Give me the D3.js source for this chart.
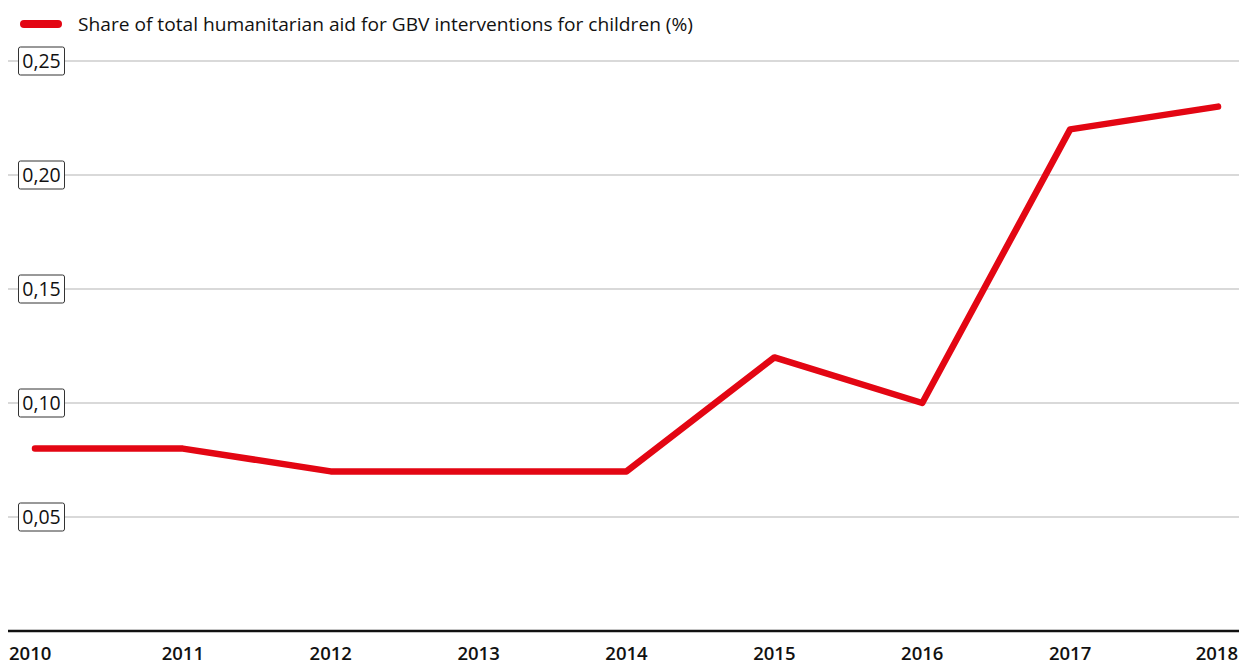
<!DOCTYPE html>
<html>
<head>
<meta charset="utf-8">
<script src="https://cdn.jsdelivr.net/npm/d3@7"></script>
<style>
  body { margin: 0; background: #fff; }
  svg { font-family: "Open Sans", "Lato", sans-serif; }
</style>
</head>
<body>
<div id="chart"></div>
<script>
// Chart data
var years = ["2010", "2011", "2012", "2013", "2014", "2015", "2016", "2017", "2018"];
var shares = [0.08, 0.08, 0.07, 0.07, 0.07, 0.12, 0.10, 0.22, 0.23];
var yTicks = [0.05, 0.10, 0.15, 0.20, 0.25];
var seriesName = "Share of total humanitarian aid for GBV interventions for children (%)";

var width = 1239;
var height = 666;
var red = "#e30613";

var svg = d3
  .select("#chart")
  .append("svg")
  .attr("width", width)
  .attr("height", height);

// Scales
var xScale = d3.scalePoint().domain(years).range([35, 1218]);
var yScale = d3.scaleLinear().domain([0, 0.25]).range([631, 61]);

// Gridlines
svg
  .append("g")
  .selectAll("line")
  .data(yTicks)
  .enter()
  .append("line")
  .attr("x1", 8)
  .attr("x2", width)
  .attr("y1", function(d) { return yScale(d); })
  .attr("y2", function(d) { return yScale(d); })
  .attr("stroke", "#b3b3b3")
  .attr("stroke-width", 1);

// Boxed y tick labels
var tickG = svg
  .append("g")
  .selectAll("g")
  .data(yTicks)
  .enter()
  .append("g")
  .attr("transform", function(d) { return "translate(18.5," + (yScale(d) - 14) + ")"; });

tickG
  .append("rect")
  .attr("width", 46)
  .attr("height", 28)
  .attr("rx", 2)
  .attr("fill", "#fff")
  .attr("stroke", "#333")
  .attr("stroke-width", 1);

tickG
  .append("text")
  .attr("x", 23)
  .attr("y", 21)
  .attr("text-anchor", "middle")
  .attr("font-size", 19.5)
  .attr("fill", "#111")
  .text(function(d) { return d3.format(".2f")(d).replace(".", ","); });

// Baseline
svg
  .append("line")
  .attr("x1", 8)
  .attr("x2", width)
  .attr("y1", yScale(0))
  .attr("y2", yScale(0))
  .attr("stroke", "#111")
  .attr("stroke-width", 2.5);

// X labels
svg
  .append("g")
  .selectAll("text")
  .data(years)
  .enter()
  .append("text")
  .attr("x", function(d, i) {
    if (i === 0) return 9;
    if (i === years.length - 1) return 1238;
    return xScale(d);
  })
  .attr("y", 660)
  .attr("text-anchor", function(d, i) {
    if (i === 0) return "start";
    if (i === years.length - 1) return "end";
    return "middle";
  })
  .attr("font-size", 18.5)
  .attr("font-weight", "600")
  .attr("fill", "#111")
  .text(function(d) { return d; });

// Line
var line = d3
  .line()
  .x(function(d, i) { return xScale(years[i]); })
  .y(function(d) { return yScale(d); });

svg
  .append("path")
  .datum(shares)
  .attr("d", line)
  .attr("fill", "none")
  .attr("stroke", red)
  .attr("stroke-width", 6.5)
  .attr("stroke-linejoin", "round")
  .attr("stroke-linecap", "round");

// Legend
svg
  .append("line")
  .attr("x1", 24)
  .attr("x2", 58)
  .attr("y1", 24)
  .attr("y2", 24)
  .attr("stroke", red)
  .attr("stroke-width", 8)
  .attr("stroke-linecap", "round");

svg
  .append("text")
  .attr("x", 78)
  .attr("y", 31)
  .attr("font-size", 18.5)
  .attr("fill", "#111")
  .attr("textLength", 615)
  .attr("lengthAdjust", "spacingAndGlyphs")
  .text(seriesName);
</script>
</body>
</html>
